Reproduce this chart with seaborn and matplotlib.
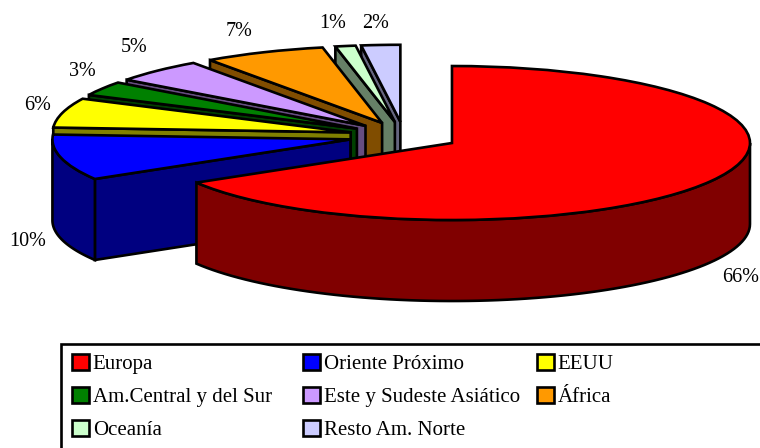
import numpy as np
import seaborn as sns
import matplotlib.pyplot as plt
from matplotlib.patches import Rectangle

regions = ['Europa', 'Oriente Próximo', 'EEUU', 'Am.Central y del Sur',
           'Este y Sudeste Asiático', 'África', 'Oceanía', 'Resto Am. Norte']
shares = [66.4, 9.6, 6.2, 3.0, 5.0, 6.6, 1.1, 2.1]
top_colors = ['#FF0000', '#0000FF', '#FFFF00', '#008000',
              '#CC99FF', '#FF9900', '#CCFFCC', '#CCCCFF']

# label anchors in pixels of the 760x448 picture
label_px = [(741, 277), (28, 241), (38, 105), (82, 72),
            (134, 48), (239, 31), (333, 23), (376, 23)]

W, H = 760, 448
RX, RY = 298.0, 77.0     # pie radius on screen
CX, CY = 404.0, 136.0    # pie centre on screen
DEPTH = 81.0 / RY
EXPLODE = 0.185
LW = 1.9

sns.set_theme(style='white')
plt.rcParams['font.family'] = ['Liberation Serif']

palette = sns.color_palette(top_colors)
fig, ax = plt.subplots(figsize=(W / 100, H / 100), dpi=100)
ax.set_position([0, 0, 1, 1])

wedges, _ = ax.pie(shares, explode=[EXPLODE] * len(shares), startangle=90,
                   counterclock=False, colors=palette,
                   wedgeprops=dict(edgecolor='black', linewidth=LW))
ax.set_aspect('auto')
ax.set_xlim(-CX / RX, (W - CX) / RX)
ax.set_ylim((CY - H) / RY, CY / RY)


def rim(apex, angles):
    """angles clockwise from 12 o'clock, in degrees"""
    a = np.radians(angles)
    return apex[0] + np.sin(a), apex[1] + np.cos(a)


# sides first, back slices under the front ones
edges = np.concatenate([[0], np.cumsum(shares)]) / sum(shares) * 360
for i, wedge in enumerate(wedges):
    z = 2 + (len(shares) - i if i > 0 else len(shares) + 1) * 2
    start, end = edges[i], edges[i + 1]
    mid = np.radians((start + end) / 2)
    apex = (EXPLODE * np.sin(mid), EXPLODE * np.cos(mid))
    side = tuple(np.array(palette[i]) * 0.5)
    wedge.set_zorder(z + 1)

    # radial wall, only the left slices show it
    if i > 0:
        sx, sy = rim(apex, np.array([start]))
        ax.fill([apex[0], sx[0], sx[0], apex[0]],
                [apex[1], sy[0], sy[0] - DEPTH, apex[1] - DEPTH],
                facecolor=side, edgecolor='black', lw=LW, zorder=z)

    # outer wall on the part of the rim that faces us
    lo, hi = max(start, 90), min(end, 270)
    if lo < hi:
        xs, ys = rim(apex, np.linspace(lo, hi, 80))
        ax.fill(np.r_[xs, xs[::-1]], np.r_[ys, ys[::-1] - DEPTH],
                facecolor=side, edgecolor='black', lw=LW, zorder=z)

for share, (px, py) in zip(shares, label_px):
    ax.text(px / W, 1 - py / H, f'{share:.0f}%', transform=ax.transAxes,
            ha='center', va='center', fontsize=14.5, color='black')

# legend box runs off the right and bottom of the picture
ax.add_patch(Rectangle((61 / W, -0.1), 1, 0.1 + 1 - 344 / H, transform=ax.transAxes,
                       facecolor='white', edgecolor='black', lw=LW,
                       clip_on=True, zorder=30))

# one legend per column, the columns are not evenly spaced
columns = [([0, 3, 6], 72), ([1, 4, 7], 303), ([2, 5], 537)]
for idx, left in columns:
    leg = ax.legend([wedges[i] for i in idx], [regions[i] for i in idx],
                    loc='upper left', bbox_to_anchor=(left / W, 1 - 354 / H),
                    frameon=False, fontsize=15, labelcolor='black',
                    borderaxespad=0, borderpad=0,
                    handlelength=0.8, handleheight=0.8, handletextpad=0.2,
                    labelspacing=0.62)
    leg.set_zorder(31)
    ax.add_artist(leg)
    ax.legend_ = None

fig.savefig('out.png', dpi=100)
plt.close(fig)
